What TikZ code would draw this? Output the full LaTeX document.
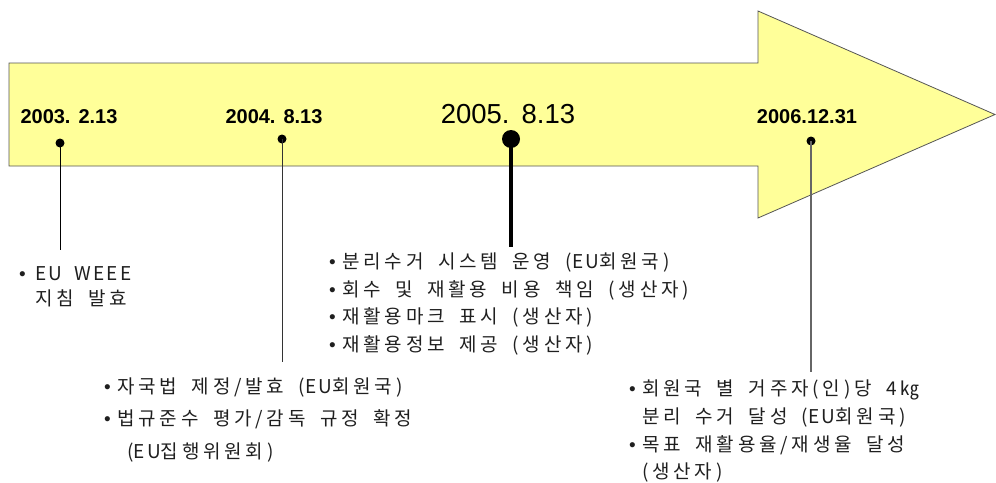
\documentclass[tikz,border=0pt]{standalone}
\usepackage{fontspec}
\setmainfont{Noto Sans CJK KR}
\newfontfamily\krfont[LetterSpace=20,WordSpace=1.8]{Noto Sans CJK KR}
\newfontfamily\krlat[LetterSpace=12,WordSpace=1.8]{Noto Sans CJK KR}
\newfontfamily\datefont{Liberation Sans}
\definecolor{arrowfill}{HTML}{FFFF99}
\definecolor{arrowline}{HTML}{555555}
\newcommand\itembul[1]{\makebox[#1][l]{\datefont •}}
\newcommand\lat[1]{{\krlat #1}}
\begin{document}
\begin{tikzpicture}[x=1pt,y=-1pt,
  datelbl/.style={font=\datefont\bfseries\fontsize{20}{24}\selectfont, inner sep=0pt},
  bigdatelbl/.style={font=\datefont\fontsize{27.5}{32}\selectfont, inner sep=0pt},
  dotmark/.style={circle, fill=black, inner sep=0pt, minimum size=#1},
  itemline/.style={anchor=base west, inner sep=0pt, font=\krfont\fontsize{19}{22}\selectfont, text=black!88},
]
\useasboundingbox (0,0) rectangle (996,482);
% arrow
\draw[fill=arrowfill, draw=arrowline, line width=0.8pt, line join=miter]
  (9,63) -- (758,63) -- (758,11) -- (995,114.5) -- (758,218) -- (758,166) -- (9,166) -- cycle;
% dates
\node[datelbl] (d1) at (69,117) {2003.\hspace{8pt}2.13};
\node[datelbl] (d2) at (274,117) {2004.\hspace{8pt}8.13};
\node[bigdatelbl] (d3) at (508,114) {2005.\hspace{12pt}8.13};
\node[datelbl] (d4) at (807,117) {2006.12.31};
% dots
\node[dotmark=9pt] (p1) at (60,143) {};
\node[dotmark=9pt] (p2) at (282,139) {};
\node[dotmark=18pt] (p3) at (511,139) {};
\node[dotmark=9pt] (p4) at (811,141) {};
% line ends
\coordinate (e1) at (60,250);
\coordinate (e2) at (282,362);
\coordinate (e3) at (511,247);
\coordinate (e4) at (811,372);
\draw[black, line width=1pt] (p1.center) -- (e1);
\draw[black!80, line width=1pt] (p2.center) -- (e2);
\draw[black, line width=3.8pt] (p3.center) -- (e3);
\draw[black!60, line width=1.2pt] (p4.center) -- (e4);
% block A
\node[itemline] (a1) at (19,280) {\itembul{16pt}\lat{EU WEEE}};
\node[itemline] (a2) at (35,305) {지침 발효};
% block B
\node[itemline] (b1) at (329,268) {\itembul{13pt}분리수거 시스템 운영 (\lat{EU}회원국)};
\node[itemline] (b2) at (329,296) {\itembul{13pt}회수 및 재활용 비용 책임 (생산자)};
\node[itemline] (b3) at (329,323) {\itembul{13pt}재활용마크 표시 (생산자)};
\node[itemline] (b4) at (329,351) {\itembul{13pt}재활용정보 제공 (생산자)};
% block C
\node[itemline] (c1) at (104,393) {\itembul{13pt}자국법 제정/발효 (\lat{EU}회원국)};
\node[itemline] (c2) at (104,425) {\itembul{13pt}법규준수 평가/감독 규정 확정};
\node[itemline] (c3) at (127,458) {(\lat{EU}집행위원회)};
% block D
\node[itemline] (f1) at (629,395) {\itembul{13pt}회원국 별 거주자(인)당 4㎏};
\node[itemline] (f2) at (642,423) {분리 수거 달성 (\lat{EU}회원국)};
\node[itemline] (f3) at (629,451) {\itembul{13pt}목표 재활용율/재생율 달성};
\node[itemline] (f4) at (642,478) {(생산자)};
\end{tikzpicture}
\end{document}
